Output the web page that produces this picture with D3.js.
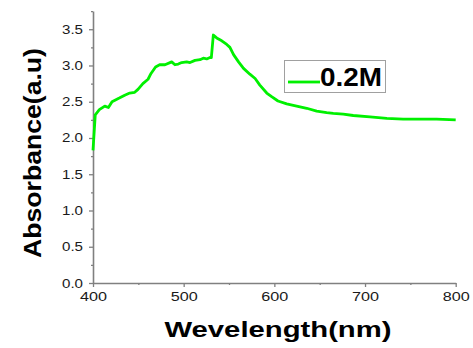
<!DOCTYPE html>
<html>
<head>
<meta charset="utf-8">
<script src="https://cdn.jsdelivr.net/npm/d3@7"></script>
<style>
  body { margin: 0; background: #fff; }
  svg { display: block; font-family: Arial, "Liberation Sans", sans-serif; }
</style>
</head>
<body>
<svg></svg>
<script>
// absorbance spectrum, values
var wavelength = [400, 402.5, 407, 413, 417, 421, 429, 435, 440.5, 446, 449.6, 455, 460.7, 464, 469,
                  473.5, 479.4, 486.8, 490.4, 494, 497.8, 503.3, 507, 512.5, 518, 521.6, 525.4, 529, 530.5,
                  532.7, 536.4, 542, 547.5, 551, 555, 560.5, 566, 573, 578.8, 584, 591.6, 597,
                  604, 613.6, 624.6, 635.7, 646.7, 657.7, 665, 676, 687, 705.5, 724, 742, 760.7, 779, 800];
var absorbance = [1.83, 2.32, 2.39, 2.44, 2.42, 2.50, 2.55, 2.59, 2.62, 2.63, 2.67, 2.75, 2.81, 2.89, 2.98,
                  3.01, 3.01, 3.05, 3.01, 3.02, 3.04, 3.05, 3.04, 3.07, 3.08, 3.10, 3.09, 3.11, 3.11,
                  3.42, 3.38, 3.34, 3.29, 3.25, 3.15, 3.05, 2.96, 2.88, 2.82, 2.73, 2.62, 2.57,
                  2.51, 2.47, 2.44, 2.41, 2.37, 2.35, 2.34, 2.33, 2.31, 2.29, 2.27, 2.26, 2.26, 2.26, 2.25];
var xTicks = [400, 500, 600, 700, 800];
var xMinor = [450, 550, 650, 750];
var yTicks = [0, 0.5, 1, 1.5, 2, 2.5, 3, 3.5];
var yMinor = [0.25, 0.75, 1.25, 1.75, 2.25, 2.75, 3.25, 3.75];
var seriesName = "0.2M";

var width = 473, height = 348;
var svg = d3.select("svg").attr("width", width).attr("height", height);

var x = d3.scaleLinear().domain([400, 800]).range([93, 455.7]);
var y = d3.scaleLinear().domain([0, 3.75]).range([283, 11.1]);

var axisColor = "#808080";

// minor ticks first
svg.append("g").attr("transform", "translate(0,283)")
  .call(d3.axisBottom(x).tickValues(xMinor).tickSize(2).tickFormat(""))
  .call(function(g) { g.select(".domain").remove(); });
svg.append("g").attr("transform", "translate(93,0)")
  .call(d3.axisLeft(y).tickValues(yMinor).tickSize(2).tickFormat(""))
  .call(function(g) { g.select(".domain").remove(); });

var xAxis = svg.append("g").attr("transform", "translate(0,283)")
  .call(d3.axisBottom(x).tickValues(xTicks).tickSize(4).tickSizeOuter(0).tickPadding(5).tickFormat(d3.format("d")));
var yAxis = svg.append("g").attr("transform", "translate(93,0)")
  .call(d3.axisLeft(y).tickValues(yTicks).tickSize(4).tickSizeOuter(0).tickPadding(6).tickFormat(d3.format(".1f")));

svg.selectAll(".tick line").attr("stroke", axisColor).attr("stroke-width", 1.3);
svg.selectAll(".domain").attr("stroke", axisColor).attr("stroke-width", 1.6);
svg.selectAll(".tick text").attr("fill", "#1a1a1a").style("font-size", "12.5px")
  .style("font-family", "Arial, 'Liberation Sans', sans-serif");
xAxis.selectAll(".tick text").attr("textLength", 27).attr("lengthAdjust", "spacingAndGlyphs");
yAxis.selectAll(".tick text").attr("textLength", 21).attr("lengthAdjust", "spacingAndGlyphs");

// the spectrum
var line = d3.line()
  .x(function(d, i) { return x(wavelength[i]); })
  .y(function(d) { return y(d); });

svg.append("path")
  .datum(absorbance)
  .attr("d", line)
  .attr("fill", "none")
  .attr("stroke", "#00f000")
  .attr("stroke-width", 2.8)
  .attr("stroke-linejoin", "round");

// legend
var legend = svg.append("g");
legend.append("rect")
  .attr("x", 284.5).attr("y", 60.5).attr("width", 101).attr("height", 32)
  .attr("fill", "#fff").attr("stroke", "#a0a0a0").attr("stroke-width", 1);
legend.append("line")
  .attr("x1", 288).attr("x2", 320).attr("y1", 82).attr("y2", 82)
  .attr("stroke", "#00f000").attr("stroke-width", 2.8);
legend.append("text")
  .attr("x", 320).attr("y", 86)
  .attr("textLength", 62).attr("lengthAdjust", "spacingAndGlyphs")
  .style("font-size", "26px").style("font-weight", "bold")
  .text(seriesName);

// axis titles
svg.append("text")
  .attr("x", 278).attr("y", 337)
  .attr("text-anchor", "middle")
  .attr("textLength", 227).attr("lengthAdjust", "spacingAndGlyphs")
  .style("font-size", "22px").style("font-weight", "bold")
  .text("Wevelength(nm)");

svg.append("text")
  .attr("transform", "translate(41,153) rotate(-90)")
  .attr("text-anchor", "middle")
  .attr("textLength", 210).attr("lengthAdjust", "spacingAndGlyphs")
  .style("font-size", "24px").style("font-weight", "bold")
  .text("Absorbance(a.u)");
</script>
</body>
</html>
